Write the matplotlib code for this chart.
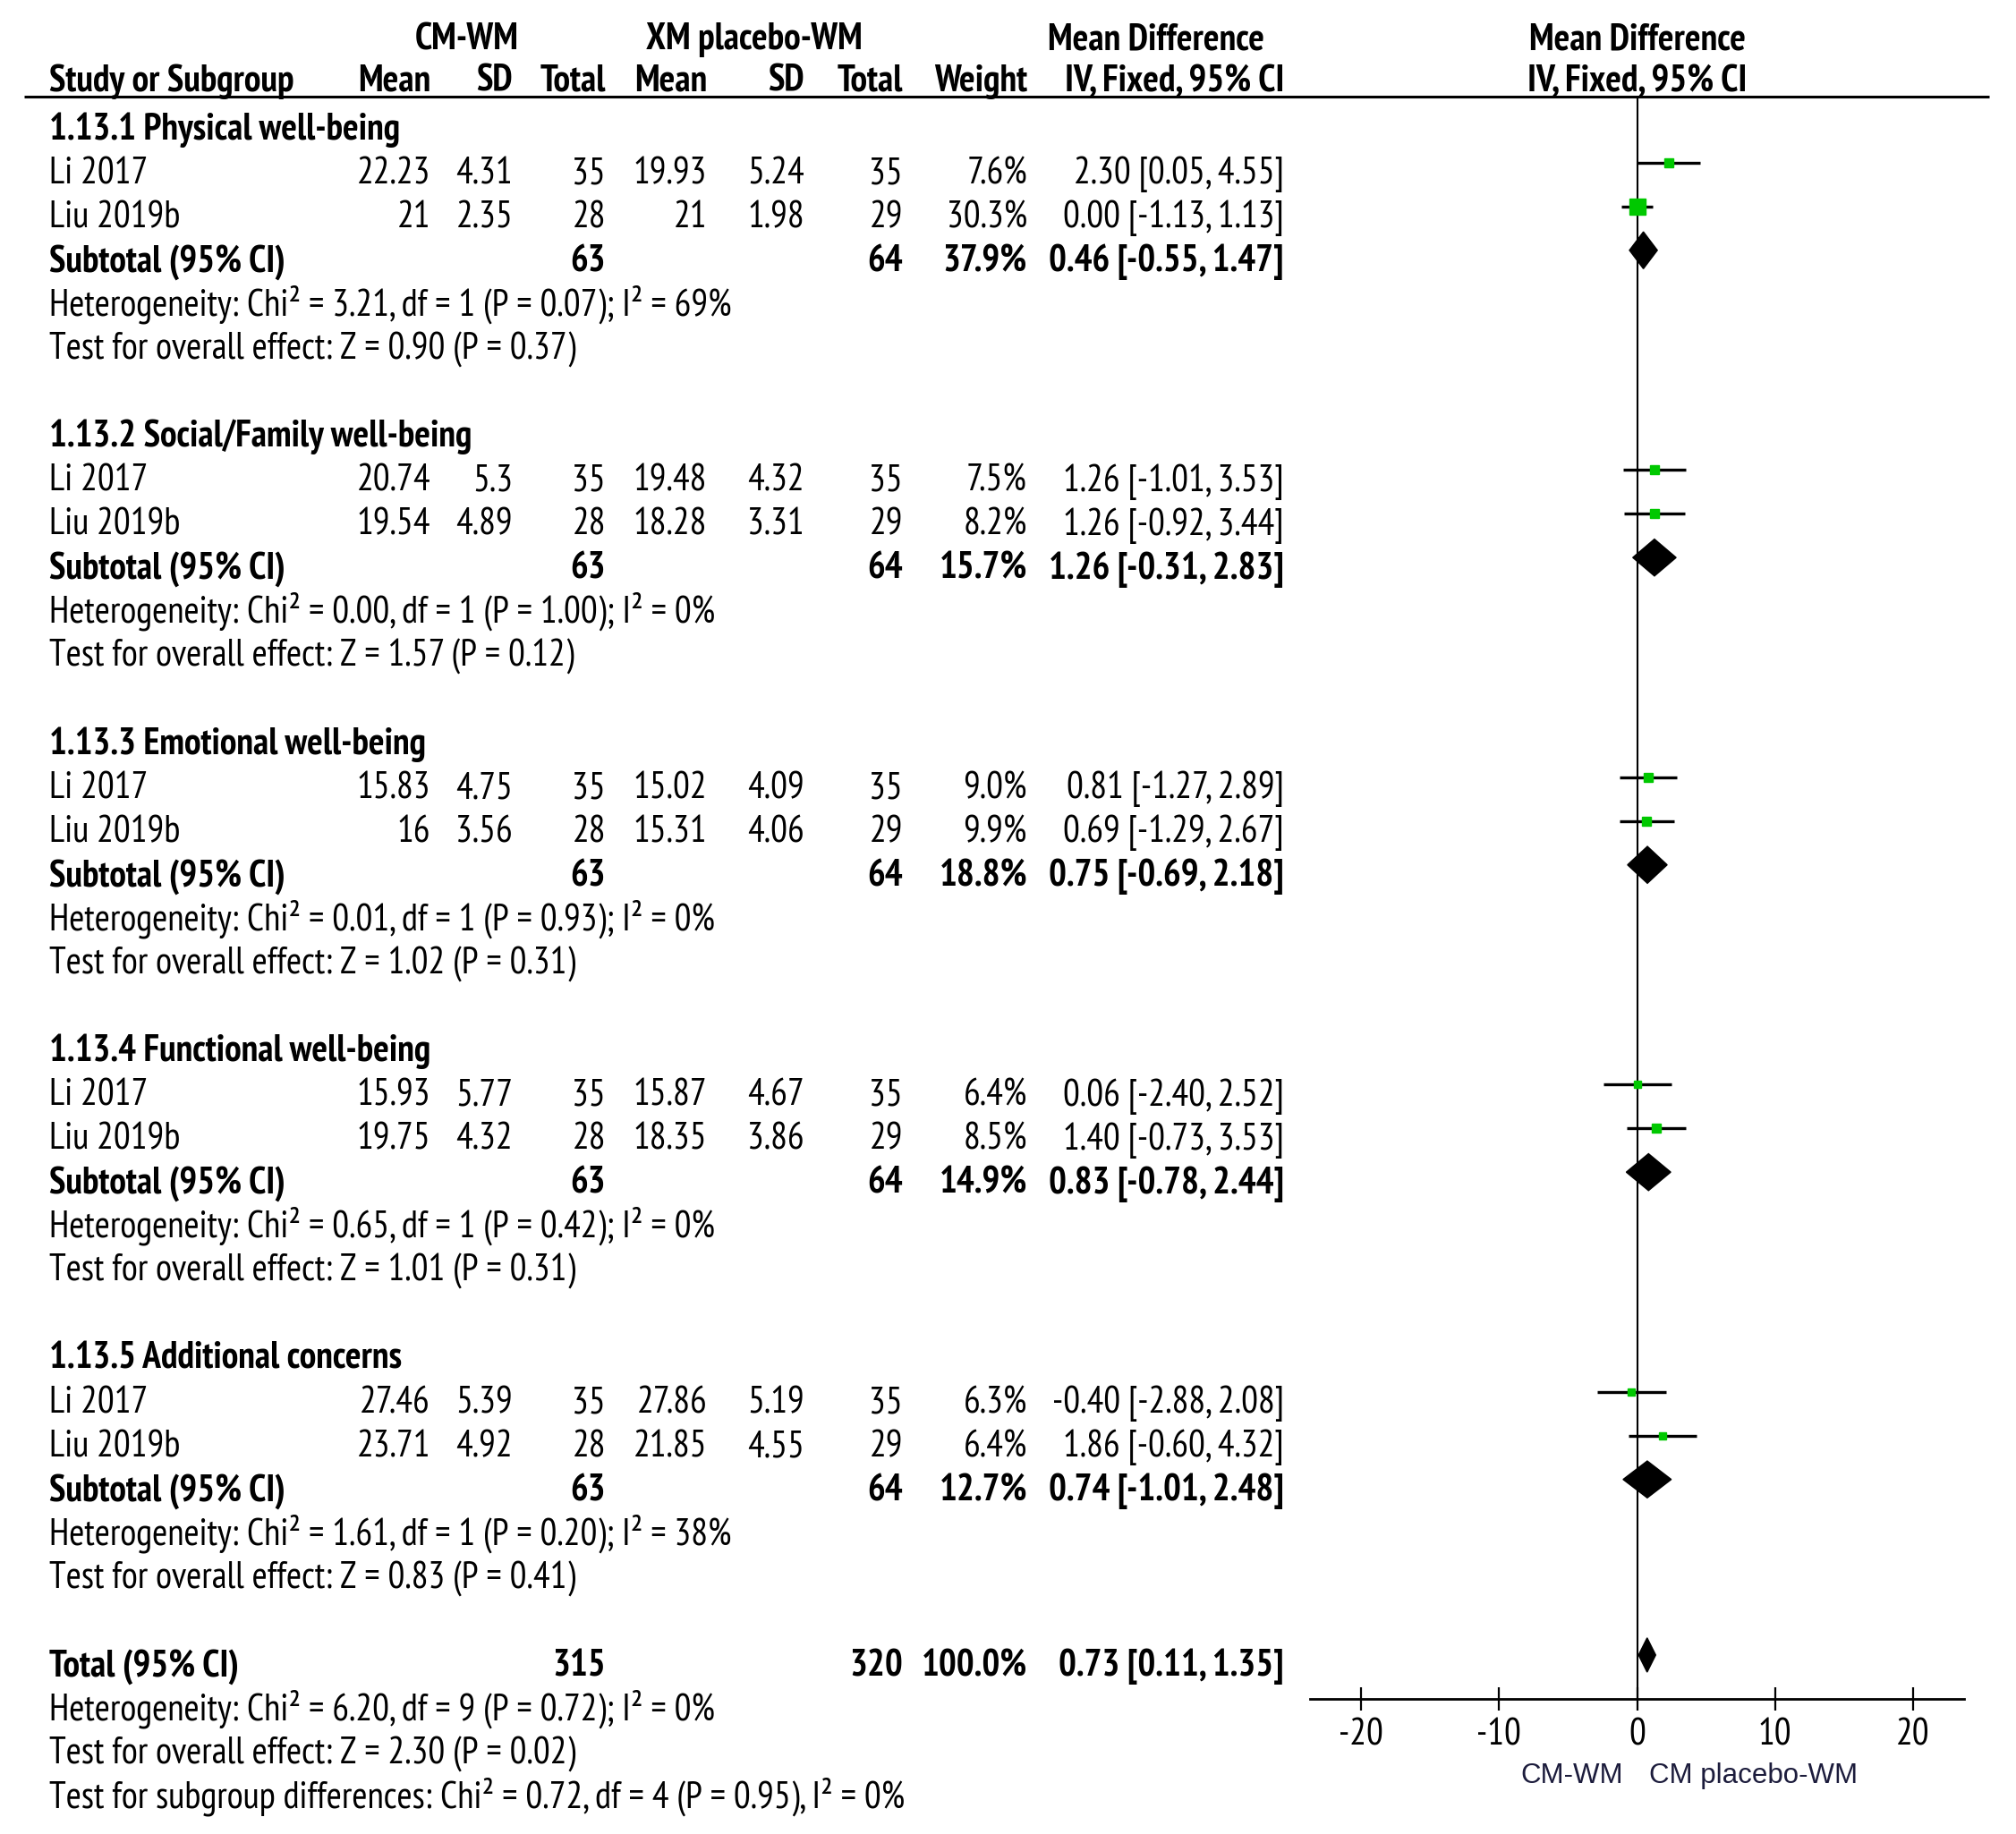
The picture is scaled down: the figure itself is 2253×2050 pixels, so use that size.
import matplotlib
matplotlib.use('Agg')
import matplotlib.pyplot as plt
import matplotlib.transforms as mtransforms
from matplotlib import font_manager as fm

plt.rcParams['axes.unicode_minus'] = False

groups = ['1.13.1 Physical well-being', '1.13.2 Social/Family well-being',
          '1.13.3 Emotional well-being', '1.13.4 Functional well-being',
          '1.13.5 Additional concerns']
studies = ['Li 2017', 'Liu 2019b']

cm_mean = [[22.23, 21], [20.74, 19.54], [15.83, 16], [15.93, 19.75], [27.46, 23.71]]
cm_sd = [[4.31, 2.35], [5.3, 4.89], [4.75, 3.56], [5.77, 4.32], [5.39, 4.92]]
cm_n = [35, 28]
xm_mean = [[19.93, 21], [19.48, 18.28], [15.02, 15.31], [15.87, 18.35], [27.86, 21.85]]
xm_sd = [[5.24, 1.98], [4.32, 3.31], [4.09, 4.06], [4.67, 3.86], [5.19, 4.55]]
xm_n = [35, 29]

weight = [[7.6, 30.3], [7.5, 8.2], [9.0, 9.9], [6.4, 8.5], [6.3, 6.4]]
md = [[2.30, 0.00], [1.26, 1.26], [0.81, 0.69], [0.06, 1.40], [-0.40, 1.86]]
md_lo = [[0.05, -1.13], [-1.01, -0.92], [-1.27, -1.29], [-2.40, -0.73], [-2.88, -0.60]]
md_hi = [[4.55, 1.13], [3.53, 3.44], [2.89, 2.67], [2.52, 3.53], [2.08, 4.32]]

sub_weight = [37.9, 15.7, 18.8, 14.9, 12.7]
sub_md = [0.46, 1.26, 0.75, 0.83, 0.74]
sub_lo = [-0.55, -0.31, -0.69, -0.78, -1.01]
sub_hi = [1.47, 2.83, 2.18, 2.44, 2.48]

het = ['Heterogeneity: Chi² = 3.21, df = 1 (P = 0.07); I² = 69%',
       'Heterogeneity: Chi² = 0.00, df = 1 (P = 1.00); I² = 0%',
       'Heterogeneity: Chi² = 0.01, df = 1 (P = 0.93); I² = 0%',
       'Heterogeneity: Chi² = 0.65, df = 1 (P = 0.42); I² = 0%',
       'Heterogeneity: Chi² = 1.61, df = 1 (P = 0.20); I² = 38%']
overall = ['Test for overall effect: Z = 0.90 (P = 0.37)',
           'Test for overall effect: Z = 1.57 (P = 0.12)',
           'Test for overall effect: Z = 1.02 (P = 0.31)',
           'Test for overall effect: Z = 1.01 (P = 0.31)',
           'Test for overall effect: Z = 0.83 (P = 0.41)']

total_n = [315, 320]
total_weight = 100.0
total_md, total_lo, total_hi = 0.73, 0.11, 1.35
total_lines = ['Heterogeneity: Chi² = 6.20, df = 9 (P = 0.72); I² = 0%',
               'Test for overall effect: Z = 2.30 (P = 0.02)',
               'Test for subgroup differences: Chi² = 0.72, df = 4 (P = 0.95), I² = 0%']
xticks = [-20, -10, 0, 10, 20]


# pick a narrow sans with a real bold face, fall back to Liberation Sans
def usable(fam):
    try:
        reg = fm.findfont(fm.FontProperties(family=fam), fallback_to_default=False)
        bold = fm.findfont(fm.FontProperties(family=fam, weight='bold'), fallback_to_default=False)
    except ValueError:
        return False
    return reg != bold


NARROW = ['Liberation Sans', 'DejaVu Sans']
for fam in ['Liberation Sans Narrow', 'Arial Narrow', 'PT Sans Narrow',
            'Roboto Condensed', 'Archivo Narrow']:
    if usable(fam):
        NARROW = [fam, 'Liberation Sans', 'DejaVu Sans']
        break

W, H = 2253, 2050
fig = plt.figure(figsize=(W / 100, H / 100), dpi=100)

# size the font so the heterogeneity line is as wide as in the original
probe = fig.text(0, 0, het[0], fontsize=25.5, family=NARROW)
w_probe = probe.get_window_extent(renderer=fig.canvas.get_renderer()).width
probe.remove()
FS = min(30.0, 25.5 * 778 / w_probe)

ROW0, STEP = 132.5, 49.07


def row(ypix):
    return (ypix - ROW0) / STEP


BASE = 23.5 / STEP

tab = fig.add_axes([0, 0, 1, 1])
tab.set_xlim(0, W)
tab.set_ylim(row(H), row(0))
tab.axis('off')


def put(x, r, s, ha='right', bold=False):
    tab.text(x, r + BASE, s, ha=ha, va='baseline', fontsize=FS, family=NARROW,
             fontweight='bold' if bold else 'normal')


def head(x, ypix, s, ha):
    tab.text(x, row(ypix), s, ha=ha, va='baseline', fontsize=FS, family=NARROW,
             fontweight='bold')


# column anchors (right edges)
X_LEFT = 55
X_CM_M, X_CM_SD, X_CM_N = 481, 573, 677
X_XM_M, X_XM_SD, X_XM_N = 790, 899, 1009
X_W, X_CI = 1148, 1435

head(522, 55, 'CM-WM', 'center')
head(843, 55, 'XM placebo-WM', 'center')
head(1292, 55, 'Mean Difference', 'center')
head(1830, 55, 'Mean Difference', 'center')
head(X_LEFT, 102, 'Study or Subgroup', 'left')
for x, s in [(X_CM_M, 'Mean'), (X_CM_SD, 'SD'), (X_CM_N, 'Total'),
             (X_XM_M, 'Mean'), (X_XM_SD, 'SD'), (X_XM_N, 'Total'),
             (X_W, 'Weight'), (X_CI, 'IV, Fixed, 95% CI')]:
    head(x, 102, s, 'right')
head(1830, 102, 'IV, Fixed, 95% CI', 'center')
tab.plot([27, 2223], [-0.5, -0.5], color='black', lw=2.2, solid_capstyle='butt')

# forest panel
fx = fig.add_axes([1464 / W, 1 - 1899 / H, (2195 - 1464) / W, (1899 - 108) / H])
fx.set_xlim(-23.7, 23.7)
fx.set_ylim(36, -0.5)
fx.patch.set_alpha(0)
for side in ['top', 'left', 'right']:
    fx.spines[side].set_visible(False)
fx.spines['bottom'].set_linewidth(2.0)
fx.set_yticks([])
fx.set_xticks(xticks)
fx.set_xticklabels([str(t) for t in xticks], family=NARROW, fontsize=FS)
fx.tick_params(axis='x', direction='inout', length=19, width=1.6, pad=6)
fx.axvline(0, color='black', lw=1.5, zorder=1)

green = '#00c800'
for g in range(len(groups)):
    r0 = 7 * g
    put(X_LEFT, r0, groups[g], ha='left', bold=True)
    for i in range(2):
        r = r0 + 1 + i
        put(X_LEFT, r, studies[i], ha='left')
        put(X_CM_M, r, f'{cm_mean[g][i]:g}')
        put(X_CM_SD, r, f'{cm_sd[g][i]:g}')
        put(X_CM_N, r, str(cm_n[i]))
        put(X_XM_M, r, f'{xm_mean[g][i]:g}')
        put(X_XM_SD, r, f'{xm_sd[g][i]:g}')
        put(X_XM_N, r, str(xm_n[i]))
        put(X_W, r, f'{weight[g][i]:.1f}%')
        put(X_CI, r, f'{md[g][i]:.2f} [{md_lo[g][i]:.2f}, {md_hi[g][i]:.2f}]')
        fx.hlines(r, md_lo[g][i], md_hi[g][i], color='black', lw=2.4, zorder=2)
        fx.plot(md[g][i], r, marker='s', color=green, linestyle='none',
                markersize=0.72 * 3.45 * weight[g][i] ** 0.5, zorder=3)
    r = r0 + 3
    put(X_LEFT, r, 'Subtotal (95% CI)', ha='left', bold=True)
    put(X_CM_N, r, str(sum(cm_n)), bold=True)
    put(X_XM_N, r, str(sum(xm_n)), bold=True)
    put(X_W, r, f'{sub_weight[g]:.1f}%', bold=True)
    put(X_CI, r, f'{sub_md[g]:.2f} [{sub_lo[g]:.2f}, {sub_hi[g]:.2f}]', bold=True)
    h = 0.42
    fx.fill([sub_lo[g], sub_md[g], sub_hi[g], sub_md[g]], [r, r - h, r, r + h],
            color='black', zorder=3)
    put(X_LEFT, r0 + 4, het[g], ha='left')
    put(X_LEFT, r0 + 5, overall[g], ha='left')

r = 35
put(X_LEFT, r, 'Total (95% CI)', ha='left', bold=True)
put(X_CM_N, r, str(total_n[0]), bold=True)
put(X_XM_N, r, str(total_n[1]), bold=True)
put(X_W, r, f'{total_weight:.1f}%', bold=True)
put(X_CI, r, f'{total_md:.2f} [{total_lo:.2f}, {total_hi:.2f}]', bold=True)
h = 0.39
fx.fill([total_lo, total_md, total_hi, total_md], [r, r - h, r, r + h],
        color='black', zorder=3)
for k, s in enumerate(total_lines):
    put(X_LEFT, 36 + k, s, ha='left')

lab = mtransforms.blended_transform_factory(fx.transData, tab.transData)
fx.text(-1.0, row(1993), 'CM-WM', transform=lab, ha='right', va='baseline',
        fontsize=22.5, family=['Liberation Sans', 'DejaVu Sans'], color='#1c1c3c')
fx.text(0.9, row(1993), 'CM placebo-WM', transform=lab, ha='left', va='baseline',
        fontsize=22.5, family=['Liberation Sans', 'DejaVu Sans'], color='#1c1c3c')

fig.savefig('out.png', dpi=100)
